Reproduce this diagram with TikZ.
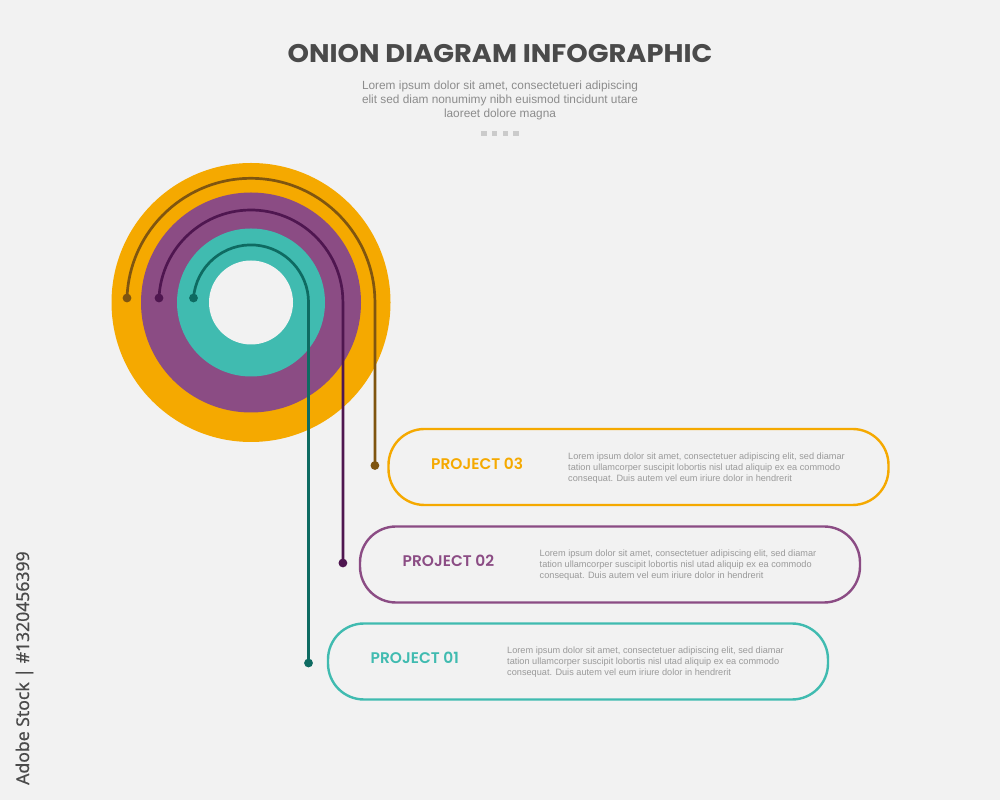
\documentclass[tikz,border=0pt]{standalone}
\usepackage{fontspec}
\setmainfont[FakeBold=0.4]{Noto Sans}
\newfontfamily\popfont{Poppins}
\newfontfamily\popmed{Poppins SemiBold}
\newfontfamily\bodyfont{Liberation Sans}
\definecolor{bg}{HTML}{F2F2F2}
\definecolor{orangec}{HTML}{F5A900}
\definecolor{purplec}{HTML}{8B4C84}
\definecolor{tealc}{HTML}{40BBB0}
\definecolor{orangel}{HTML}{7F5510}
\definecolor{purplel}{HTML}{4F1650}
\definecolor{teall}{HTML}{0E6B62}
\definecolor{titlec}{HTML}{4A4A4A}
\definecolor{bodyc}{HTML}{8C8C8C}
\definecolor{descc}{HTML}{9A9A9A}
\definecolor{sq}{HTML}{CBCBCB}
\tikzset{
 disc/.style={circle,inner sep=0pt,outer sep=0pt,minimum size=#1},
 dotnode/.style={circle,inner sep=0pt,outer sep=0pt,minimum size=8.8pt,fill=#1},
 wire/.style={draw=#1,line width=2.7pt},
 projbox/.style={draw=#1,line width=2.4pt,rounded corners=36pt,minimum width=500pt,minimum height=76pt,inner sep=0pt},
 projlabel/.style={text=#1,font=\popmed\fontsize{15.4}{17}\selectfont,anchor=base west,inner sep=0pt},
 desc/.style={text=descc,font=\bodyfont\fontsize{9.18}{11}\selectfont,align=left,anchor=north west,inner sep=0pt},
 squarebit/.style={fill=sq,inner sep=0pt,minimum size=5.4pt},
}
\begin{document}
\begin{tikzpicture}[x=1pt,y=1pt]
\useasboundingbox[fill=bg] (0,0) rectangle (1000,800);
% discs
\node[disc=279pt,fill=orangec] (outer) at (251,497.5) {};
\node[disc=220pt,fill=purplec] (middle) at (251,497.5) {};
\node[disc=148pt,fill=tealc] (inner) at (251,497.5) {};
\node[disc=84pt,fill=bg] (hole) at (251,497.5) {};
% title
\node[text=titlec,font=\popfont\bfseries\fontsize{25.5}{30}\selectfont,inner sep=0pt,anchor=base,xscale=1.07] (title) at (500,737.7) {ONION DIAGRAM INFOGRAPHIC};
\node[text=bodyc,font=\bodyfont\fontsize{11.85}{14}\selectfont,align=center,inner sep=0pt,anchor=north] (intro) at (500,719.5) {Lorem ipsum dolor sit amet, consectetueri adipiscing\\elit sed diam nonumimy nibh euismod tincidunt utare\\laoreet dolore magna};
\node[squarebit] (s1) at (484,666.5) {};
\node[squarebit] (s2) at (494.5,666.5) {};
\node[squarebit] (s3) at (505.5,666.5) {};
\node[squarebit] (s4) at (516,666.5) {};
% boxes
\node[projbox=orangec] (box3) at (638.5,333) {};
\node[projbox=purplec] (box2) at (610,235.5) {};
\node[projbox=tealc] (box1) at (578,138.5) {};
% labels
\node[projlabel=orangec] (p3) at (431,330.5) {PROJECT 03};
\node[projlabel=purplec] (p2) at (402.5,233) {PROJECT 02};
\node[projlabel=tealc] (p1) at (370.5,136) {PROJECT 01};
\node[desc] (d3) at (568,347.5) {Lorem ipsum dolor sit amet, consectetuer adipiscing elit, sed diamar\\tation ullamcorper suscipit lobortis nisl utad aliquip ex ea commodo\\consequat. Duis autem vel eum iriure dolor in hendrerit};
\node[desc] (d2) at (539.5,250.5) {Lorem ipsum dolor sit amet, consectetuer adipiscing elit, sed diamar\\tation ullamcorper suscipit lobortis nisl utad aliquip ex ea commodo\\consequat. Duis autem vel eum iriure dolor in hendrerit};
\node[desc] (d1) at (507,153.5) {Lorem ipsum dolor sit amet, consectetuer adipiscing elit, sed diamar\\tation ullamcorper suscipit lobortis nisl utad aliquip ex ea commodo\\consequat. Duis autem vel eum iriure dolor in hendrerit};
% dots
\node[dotnode=orangel] (a3) at (127,502) {};
\node[dotnode=purplel] (a2) at (159,502) {};
\node[dotnode=teall] (a1) at (193.5,502) {};
\node[dotnode=orangel] (b3) at (374.92,334.5) {};
\node[dotnode=purplel] (b2) at (342.91,237) {};
\node[dotnode=teall] (b1) at (308.52,137) {};
% connectors
\draw[wire=orangel] (a3.center) arc[start angle=178,end angle=0,radius=124] -- (b3.center);
\draw[wire=purplel] (a2.center) arc[start angle=177.5,end angle=0,radius=92] -- (b2.center);
\draw[wire=teall] (a1.center) arc[start angle=175.5,end angle=0,radius=57.6] -- (b1.center);
% side label
\node[rotate=90,text=titlec,font=\fontsize{17.6}{20}\selectfont,inner sep=0pt,anchor=base west] (side) at (29,15) {Adobe Stock | \#1320456399};
\end{tikzpicture}
\end{document}
